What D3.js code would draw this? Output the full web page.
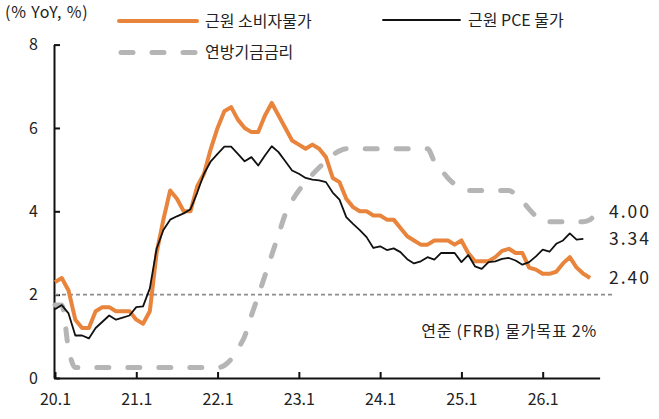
<!DOCTYPE html>
<html>
<head>
<meta charset="utf-8">
<script src="https://cdn.jsdelivr.net/npm/d3@7"></script>
<style>
  html, body { margin: 0; padding: 0; background: #fff; }
  svg { display: block; font-family: "Noto Sans CJK KR", "Noto Sans", sans-serif; }
  .axis path, .axis line { stroke: #111; stroke-width: 2; }
  .axis text { font-size: 16px; fill: #222; font-family: "Noto Sans CJK KR", "Noto Sans", sans-serif; }
  .lbl { font-size: 16px; fill: #222; }
  .wide { letter-spacing: 0.8px; }
  .end-lbl { font-size: 17.5px; fill: #222; letter-spacing: 2px; }
</style>
</head>
<body>
<div id="chart"></div>
<script>
// ---- data (monthly, 2020.1 = index 0) ----
const xTickValues = [0, 12, 24, 36, 48, 60, 72];
const xTickLabels = ['20.1', '21.1', '22.1', '23.1', '24.1', '25.1', '26.1'];
const yTickValues = [0, 2, 4, 6, 8];

const coreCpi = [
  2.3, 2.4, 2.1, 1.4, 1.2, 1.2, 1.6, 1.7, 1.7, 1.6, 1.6, 1.6,
  1.4, 1.3, 1.6, 3.0, 3.8, 4.5, 4.3, 4.0, 4.0, 4.6, 4.9, 5.5,
  6.0, 6.4, 6.5, 6.2, 6.0, 5.9, 5.9, 6.3, 6.6, 6.3, 6.0, 5.7,
  5.6, 5.5, 5.6, 5.5, 5.3, 4.8, 4.7, 4.3, 4.1, 4.0, 4.0, 3.9,
  3.9, 3.8, 3.8, 3.6, 3.4, 3.3, 3.2, 3.2, 3.3, 3.3, 3.3, 3.2,
  3.3, 3.0, 2.8, 2.8, 2.8, 2.9, 3.05, 3.1, 3.0, 3.0, 2.65, 2.6,
  2.5, 2.5, 2.55, 2.75, 2.9, 2.65, 2.5, 2.4
];

const corePce = [
  1.65, 1.75, 1.55, 1.02, 1.02, 0.95, 1.2, 1.35, 1.5, 1.4, 1.45, 1.5,
  1.7, 1.72, 2.15, 3.1, 3.55, 3.8, 3.88, 3.95, 4.05, 4.45, 4.9, 5.2,
  5.38, 5.55, 5.55, 5.38, 5.2, 5.3, 5.1, 5.34, 5.56, 5.42, 5.2, 4.98,
  4.9, 4.8, 4.76, 4.74, 4.7, 4.45, 4.28, 3.86, 3.7, 3.55, 3.38, 3.12,
  3.16, 3.07, 3.11, 3.02, 2.85, 2.75, 2.8, 2.9, 2.84, 3.0, 3.0, 3.0,
  2.78, 2.95, 2.68, 2.62, 2.78, 2.8, 2.86, 2.88, 2.82, 2.72, 2.78, 2.92,
  3.08, 3.03, 3.22, 3.3, 3.47, 3.32, 3.34
];

const fedFunds = [
  1.75, 1.75, 0.7, 0.25, 0.25, 0.25, 0.25, 0.25, 0.25, 0.25, 0.25, 0.25,
  0.25, 0.25, 0.25, 0.25, 0.25, 0.25, 0.25, 0.25, 0.25, 0.25, 0.25, 0.25,
  0.25, 0.3, 0.45, 0.7, 1.0, 1.5, 1.97, 2.46, 2.95, 3.44, 3.93, 4.25,
  4.5, 4.68, 4.88, 5.05, 5.2, 5.35, 5.45, 5.5, 5.5, 5.5, 5.5, 5.5,
  5.5, 5.5, 5.5, 5.5, 5.5, 5.5, 5.5, 5.5, 5.2, 5.0, 4.8, 4.65,
  4.55, 4.5, 4.5, 4.5, 4.5, 4.5, 4.5, 4.5, 4.4, 4.25, 4.05, 3.88,
  3.75, 3.75, 3.75, 3.75, 3.75, 3.75, 3.75, 3.8, 4.0
];

const fedTarget = 2;

const seriesNames = ['근원 소비자물가', '근원 PCE 물가', '연방기금금리'];
const targetLabel = '연준 (FRB) 물가목표 2%';
const unitLabel = '(% YoY, %)';

// ---- layout ----
const width = 659, height = 419;
const colors = { cpi: '#E8843C', pce: '#111111', fed: '#B5B5B5', target: '#8c8c8c' };

const svg = d3.select('#chart').append('svg')
  .attr('width', width)
  .attr('height', height);

const x = d3.scaleLinear().domain([0, 80.4]).range([55, 599.6]);
const y = d3.scaleLinear().domain([0, 8]).range([378, 44.6]);

// Axes
svg.append('g')
  .attr('class', 'axis')
  .attr('transform', `translate(0,${y(0)})`)
  .call(d3.axisBottom(x)
    .tickValues(xTickValues)
    .tickFormat((d, i) => xTickLabels[i])
    .tickSizeInner(-6)
    .tickSizeOuter(0)
    .tickPadding(16));

svg.append('g')
  .attr('class', 'axis')
  .attr('transform', `translate(${x(0) - 1},0)`)
  .call(d3.axisLeft(y)
    .tickValues(yTickValues)
    .tickFormat(d3.format('d'))
    .tickSizeInner(-6)
    .tickSizeOuter(0)
    .tickPadding(16));

// 2% target line
svg.append('line')
  .attr('x1', x(0)).attr('x2', 613)
  .attr('y1', y(fedTarget)).attr('y2', y(fedTarget))
  .attr('stroke', colors.target)
  .attr('stroke-width', 1.6)
  .attr('stroke-dasharray', '4,3');

const lineLinear = d3.line().x((d, i) => x(i)).y(d => y(d));
const lineSmooth = d3.line().x((d, i) => x(i)).y(d => y(d)).curve(d3.curveMonotoneX);

// Fed funds (dashed)
svg.append('path')
  .datum(fedFunds)
  .attr('fill', 'none')
  .attr('stroke', colors.fed)
  .attr('stroke-width', 5)
  .attr('stroke-linecap', 'round')
  .attr('stroke-dasharray', '12,19')
  .attr('d', lineSmooth);

// Core CPI
svg.append('path')
  .datum(coreCpi)
  .attr('fill', 'none')
  .attr('stroke', colors.cpi)
  .attr('stroke-width', 4)
  .attr('stroke-linejoin', 'round')
  .attr('d', lineLinear);

// Core PCE
svg.append('path')
  .datum(corePce)
  .attr('fill', 'none')
  .attr('stroke', colors.pce)
  .attr('stroke-width', 1.8)
  .attr('stroke-linejoin', 'round')
  .attr('d', lineLinear);

// End labels
const endVals = [fedFunds[fedFunds.length - 1], corePce[corePce.length - 1], coreCpi[coreCpi.length - 1]];
svg.selectAll('.end-lbl')
  .data(endVals)
  .enter()
  .append('text')
  .attr('class', 'end-lbl')
  .attr('x', 609)
  .attr('y', d => y(d))
  .attr('dy', '0.36em')
  .text(d => d3.format('.2f')(d));

// Target label
svg.append('text')
  .attr('class', 'lbl wide')
  .attr('x', 597)
  .attr('y', 331)
  .attr('dy', '0.36em')
  .attr('text-anchor', 'end')
  .text(targetLabel);

// Unit label
svg.append('text')
  .attr('class', 'lbl wide')
  .attr('x', 5)
  .attr('y', 12)
  .attr('dy', '0.36em')
  .text(unitLabel);

// Legend
const legend = [
  { name: seriesNames[0], x1: 119, x2: 197, y: 21, color: colors.cpi, w: 4, dash: null },
  { name: seriesNames[1], x1: 383, x2: 460, y: 20, color: colors.pce, w: 1.8, dash: null },
  { name: seriesNames[2], x1: 121, x2: 197, y: 52.5, color: colors.fed, w: 5, dash: '12,19' }
];

const lg = svg.selectAll('.legend')
  .data(legend)
  .enter()
  .append('g')
  .attr('class', 'legend');

lg.append('line')
  .attr('x1', d => d.x1).attr('x2', d => d.x2)
  .attr('y1', d => d.y).attr('y2', d => d.y)
  .attr('stroke', d => d.color)
  .attr('stroke-width', d => d.w)
  .attr('stroke-linecap', 'round')
  .attr('stroke-dasharray', d => d.dash);

lg.append('text')
  .attr('class', 'lbl')
  .attr('x', d => d.x2 + 8)
  .attr('y', d => d.y)
  .attr('dy', '0.36em')
  .text(d => d.name);
</script>
</body>
</html>
